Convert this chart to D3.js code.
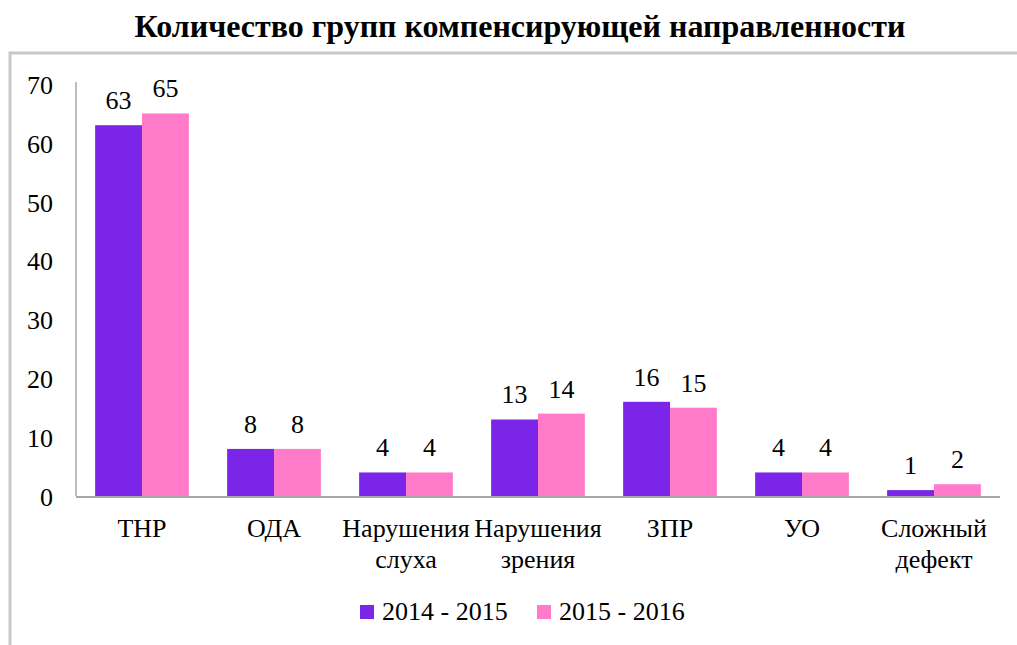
<!DOCTYPE html>
<meta charset="utf-8">
<title>Количество групп компенсирующей направленности</title>
<body style="margin:0;background:#fff">
<svg id="chart" width="1017" height="645"></svg>
<script src="https://d3js.org/d3.v7.min.js"></script>
<script>

var categories = [
  ["ТНР"],
  ["ОДА"],
  ["Нарушения", "слуха"],
  ["Нарушения", "зрения"],
  ["ЗПР"],
  ["УО"],
  ["Сложный", "дефект"]
];
var series = ["2014 - 2015", "2015 - 2016"];
var values2014 = [63, 8, 4, 13, 16, 4, 1];
var values2015 = [65, 8, 4, 14, 15, 4, 2];
var yTicks = [0, 10, 20, 30, 40, 50, 60, 70];
var colors = ["#7b25e8", "#ff7ac8"];

var svg = d3.select("#chart");

var x0 = 76, x1 = 1000,
    yTop = 84, yBottom = 496;

// frame around the chart (runs off the right and bottom edge)
svg.append("rect")
    .attr("x", 10).attr("y", 53)
    .attr("width", 1030).attr("height", 620)
    .attr("fill", "none")
    .attr("stroke", "#c8c8c8")
    .attr("stroke-width", 3);

svg.append("text")
    .attr("x", 520).attr("y", 37)
    .attr("text-anchor", "middle")
    .attr("font-family", "Liberation Serif")
    .attr("font-size", 32)
    .attr("font-weight", "bold")
    .text("Количество групп компенсирующей направленности");

var x = d3.scaleBand()
    .domain(d3.range(categories.length))
    .range([x0, x1])
    .paddingInner(0.29)
    .paddingOuter(0.145);

var xs = d3.scaleBand()
    .domain(d3.range(series.length))
    .range([0, x.bandwidth()]);

var y = d3.scaleLinear()
    .domain([0, 70])
    .range([yBottom, yTop]);

// y axis
var yAxis = svg.append("g")
    .attr("transform", "translate(" + x0 + ",0)")
    .call(d3.axisLeft(y).tickValues(yTicks).tickSize(0).tickPadding(23));
yAxis.attr("font-family", "Liberation Serif").attr("font-size", 26);
yAxis.select(".domain").attr("stroke", "#bdbdbd").attr("stroke-width", 2)
    .attr("d", "M0," + (yTop - 2) + "V" + yBottom);
yAxis.selectAll("text")
    .attr("fill", "#000")
    .attr("dy", "0.36em");

var data = categories.map(function(c, i) {
  return { i: i, label: c, vals: [values2014[i], values2015[i]] };
});

var groups = svg.selectAll("g.cat")
    .data(data)
    .enter().append("g")
    .attr("class", "cat")
    .attr("font-family", "Liberation Serif")
    .attr("font-size", 26)
    .attr("transform", function(d) { return "translate(" + x(d.i) + ",0)"; });

groups.selectAll("rect")
    .data(function(d) { return d.vals; })
    .enter().append("rect")
    .attr("x", function(v, j) { return xs(j); })
    .attr("y", function(v) { return y(v); })
    .attr("width", xs.bandwidth())
    .attr("height", function(v) { return yBottom - y(v); })
    .attr("fill", function(v, j) { return colors[j]; });

groups.selectAll("text.val")
    .data(function(d) { return d.vals; })
    .enter().append("text")
    .attr("class", "val")
    .attr("x", function(v, j) { return xs(j) + xs.bandwidth() / 2; })
    .attr("y", function(v) { return y(v) - 16; })
    .attr("text-anchor", "middle")
    .text(function(v) { return v; });

// x axis baseline
svg.append("line")
    .attr("x1", x0).attr("x2", x1)
    .attr("y1", yBottom + 1).attr("y2", yBottom + 1)
    .attr("stroke", "#a6a6a6")
    .attr("stroke-width", 2);

// category labels
groups.append("text")
    .attr("text-anchor", "middle")
    .attr("x", x.bandwidth() / 2)
    .selectAll("tspan")
    .data(function(d) { return d.label; })
    .enter().append("tspan")
    .attr("x", x.bandwidth() / 2)
    .attr("y", function(t, k) { return 537 + k * 31; })
    .text(function(t) { return t; });

// legend
var legendX = [360, 537];
var legend = svg.selectAll("g.legend")
    .data(series)
    .enter().append("g")
    .attr("class", "legend")
    .attr("font-family", "Liberation Serif")
    .attr("font-size", 26)
    .attr("transform", function(d, j) { return "translate(" + legendX[j] + ",605)"; });

legend.append("rect")
    .attr("width", 14).attr("height", 14)
    .attr("fill", function(d, j) { return colors[j]; });

legend.append("text")
    .attr("x", 22).attr("y", 15)
    .text(function(d) { return d; });

</script>
</body>
